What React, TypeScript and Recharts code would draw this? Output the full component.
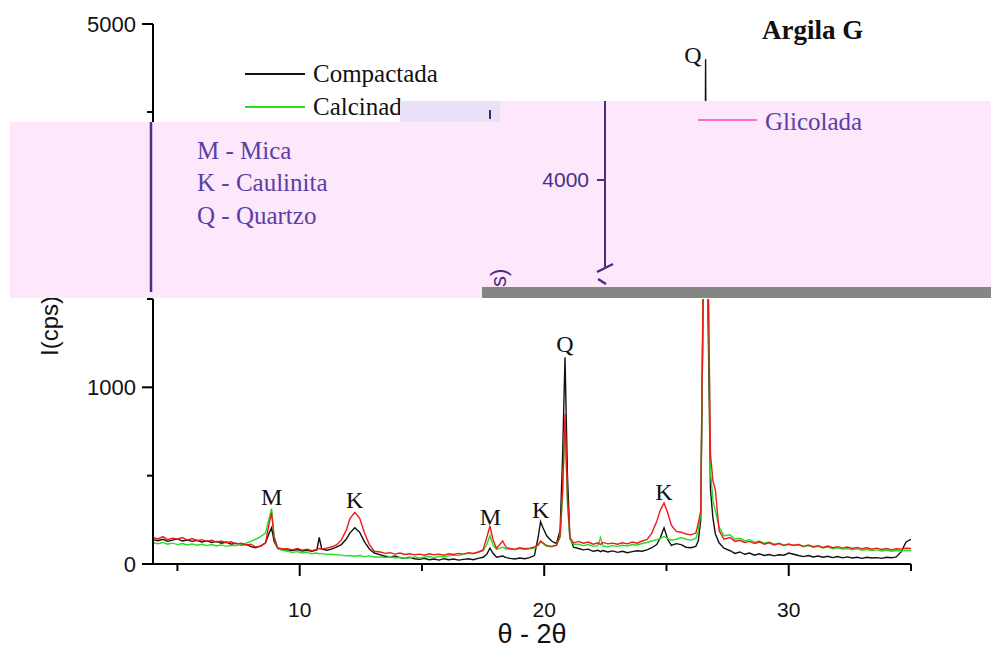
import { LineChart, Line, XAxis, YAxis, Legend, ReferenceDot } from "recharts";

// 2θ positions (degrees)
const twoTheta = [
  4.0, 4.2, 4.4, 4.6, 4.8, 5.0, 5.2, 5.4, 5.6, 5.8, 6.0, 6.2, 6.4, 6.6, 6.8, 7.0, 7.2, 7.4, 7.6, 7.8, 8.0, 8.2, 8.4,
  8.6, 8.75, 8.85, 8.95, 9.1, 9.3,
  9.5, 9.7, 9.9, 10.1, 10.3, 10.5, 10.7, 10.8, 10.9, 11.1, 11.3, 11.5,
  11.7, 11.9, 12.05, 12.25, 12.45, 12.65, 12.85, 13.05,
  13.3, 13.5, 13.7, 13.9, 14.1, 14.3, 14.5, 14.7, 14.9, 15.1, 15.3, 15.5, 15.7, 15.9, 16.1, 16.3, 16.5, 16.7, 16.9, 17.1, 17.3, 17.5,
  17.65, 17.78, 17.9, 18.05, 18.3, 18.45,
  18.6, 18.8, 19.0, 19.2, 19.4, 19.6,
  19.75, 19.85, 19.95, 20.1, 20.3, 20.5, 20.65, 20.75, 20.85, 20.95, 21.05, 21.2,
  21.4, 21.6, 21.8, 22.0, 22.2, 22.3, 22.4, 22.6, 22.8, 23.0, 23.2, 23.4, 23.6, 23.8, 24.0, 24.2,
  24.4, 24.6, 24.75, 24.9, 25.05, 25.2, 25.4, 25.6, 25.8, 26.0, 26.2, 26.3,
  26.4, 26.5, 26.6, 26.7, 26.8, 26.9, 27.0, 27.15, 27.35,
  27.6, 27.8, 28.0, 28.2, 28.4, 28.6, 28.8, 29.0, 29.2, 29.4, 29.6, 29.8, 30.0, 30.2, 30.4, 30.6, 30.8, 31.0, 31.2,
  31.4, 31.6, 31.8, 32.0, 32.2, 32.4, 32.6, 32.8, 33.0, 33.2, 33.4, 33.6, 33.8, 34.0, 34.2, 34.4, 34.6, 34.8, 35.0,
];

const compactada = [
  138, 132, 140, 128, 135, 142, 130, 136, 128, 134, 125, 131, 122, 128, 118, 124, 112, 118, 108, 112, 98, 92, 102,
  120, 175, 205, 130, 88, 82,
  80, 76, 82, 74, 78, 72, 80, 150, 85, 78, 84, 95,
  110, 140, 175, 205, 180, 125, 85, 62,
  52, 44, 40, 46, 36, 32, 38, 30, 26, 32, 24, 28, 22, 30, 24, 28, 22, 26, 30, 24, 32, 38,
  55, 90, 62, 38, 45, 36,
  32, 28, 34, 30, 36, 48,
  150, 240, 205, 160, 130, 115, 190, 600, 1170, 500, 150, 95,
  88, 80, 84, 72, 78, 70, 76, 68, 74, 66, 72, 64, 70, 75, 72, 80,
  92, 110, 150, 205, 140, 105, 115, 110, 95, 92, 100, 130,
  250, 1500, 4800, 1400, 420, 260, 170, 120, 90,
  75, 60, 68, 55, 62, 50, 58, 48, 54, 46, 52, 50, 62, 55, 48, 42, 48, 40, 45,
  38, 44, 36, 42, 35, 40, 34, 38, 32, 38, 34, 36, 32, 38, 35, 40, 70, 125, 140,
];

const calcinada = [
  120, 115, 122, 112, 118, 110, 116, 108, 114, 106, 112, 104, 110, 102, 108, 100, 106, 104, 112, 118, 128, 140, 155,
  175, 260, 315, 160, 85, 78,
  72, 66, 70, 62, 66, 58, 62, 56, 60, 54, 56, 52,
  50, 46, 48, 44, 48, 42, 46, 40,
  40, 36, 42, 34, 38, 32, 36, 40, 34, 38, 42, 36, 44, 40, 46, 50, 48, 56, 60, 58, 66, 74,
  110, 160, 110, 82, 95, 85,
  84, 80, 88, 82, 86, 90,
  105, 125, 115, 100, 98, 108, 150, 380, 800, 340, 140, 112,
  112, 104, 110, 100, 105, 150, 102, 98, 104, 100, 106, 102, 110, 108, 116, 122,
  130, 138, 145, 155, 145, 135, 140, 150, 140, 135, 145, 190,
  280, 1550, 4100, 1650, 520, 360, 300, 210, 160,
  165, 140, 146, 132, 138, 124, 130, 118, 124, 112, 118, 108, 114, 104, 110, 98, 104, 94, 100,
  90, 96, 86, 92, 84, 88, 80, 86, 78, 82, 76, 80, 74, 78, 72, 76, 74, 78, 76,
];

const glicolada = [
  150, 142, 155, 138, 146, 140, 150, 135, 144, 132, 138, 128, 134, 124, 130, 120, 126, 114, 118, 108, 112, 96, 100,
  118, 230, 290, 150, 92, 85,
  86, 80, 88, 78, 84, 76, 82, 88, 84, 90, 96, 108,
  135, 190, 255, 292, 260, 175, 110, 72,
  68, 60, 64, 56, 62, 54, 58, 52, 56, 50, 58, 52, 56, 50, 58, 54, 60, 56, 64, 60, 68, 80,
  150, 215, 140, 88, 130, 92,
  88, 84, 92, 86, 90, 96,
  110, 130, 120, 105, 100, 105, 160, 420, 850, 380, 150, 120,
  128, 118, 124, 112, 120, 110, 122, 114, 118, 112, 120, 114, 124, 118, 130, 138,
  175, 240, 305, 345, 290, 220, 185, 180, 170, 165, 175, 230,
  300, 1600, 4300, 1700, 620, 470, 420, 190, 140,
  150, 128, 134, 122, 128, 116, 124, 112, 120, 108, 116, 104, 112, 106, 110, 100, 108, 98, 104,
  94, 102, 92, 98, 90, 96, 88, 94, 86, 92, 84, 90, 82, 88, 80, 86, 84, 90, 88,
];

const xTicks = [5, 10, 15, 20, 25, 30, 35];
const xLabelled = [10, 20, 30];
const lowerTicks = [0, 500, 1000, 1500];
const lowerLabelled = [0, 1000];
const upperTicks = [4500, 5000];
const upperLabelled = [5000];

const peakNames = ["M", "K", "M", "K", "Q", "K"];
const peakX = [8.85, 12.25, 17.8, 19.85, 20.85, 24.9];
const peakY = [312, 292, 200, 238, 1180, 340];

const minerals = ["M - Mica", "K - Caulinita", "Q - Quartzo"];
const legendOrder = ["Compactada", "Calcinada"];

const data = twoTheta.map((x, i) => ({
  x,
  compactada: compactada[i],
  calcinada: calcinada[i],
  glicolada: glicolada[i],
}));

const SANS = "'Liberation Sans', Arial, sans-serif";
const SERIF = "'Liberation Serif', 'Times New Roman', serif";
const PURPLE = "#5a3ea6";
const INK = "#4b2d86";

function XTick(props: any) {
  const { x, y, payload } = props;
  const major = xLabelled.includes(payload.value);
  return (
    <g>
      <line x1={x} x2={x} y1={y} y2={y + (major ? 12 : 7)} stroke="#000" strokeWidth={2} />
      {major && (
        <text x={x} y={y + 46} dy="0.35em" textAnchor="middle" fontSize={21} fontFamily={SANS} fill="#111">
          {payload.value}
        </text>
      )}
    </g>
  );
}

function makeYTick(labelled: number[]) {
  return (props: any) => {
    const { x, y, payload } = props;
    const major = labelled.includes(payload.value);
    return (
      <g>
        <line x1={x - (major ? 11 : 6)} x2={x} y1={y} y2={y} stroke="#000" strokeWidth={2} />
        {major && (
          <text x={x - 17} y={y} dy="0.35em" textAnchor="end" fontSize={22} fontFamily={SANS} fill="#111">
            {payload.value}
          </text>
        )}
      </g>
    );
  };
}

function TopLegend(props: any) {
  const items = legendOrder
    .map((name) => (props.payload || []).find((p: any) => p.value === name))
    .filter(Boolean);
  return (
    <div>
      {items.map((p: any) => (
        <div key={p.value} style={{ display: "flex", alignItems: "center", height: 33 }}>
          <span style={{ width: 60, borderTop: `2px solid ${p.color}`, marginRight: 8 }} />
          <span style={{ fontFamily: SERIF, fontSize: 25, color: "#111", lineHeight: "33px" }}>{p.value}</span>
        </div>
      ))}
    </div>
  );
}

function Series() {
  return [
    <Line key="c" dataKey="compactada" name="Compactada" stroke="#111111" strokeWidth={1.4} dot={false} isAnimationActive={false} />,
    <Line key="k" dataKey="calcinada" name="Calcinada" stroke="#22e022" strokeWidth={1.4} dot={false} isAnimationActive={false} />,
    <Line key="g" dataKey="glicolada" name="Glicolada" stroke="#ee1a1a" strokeWidth={1.4} dot={false} isAnimationActive={false} />,
  ];
}

export default function App() {
  return (
    <div style={{ position: "absolute", left: 0, top: 0, width: 991, height: 650, background: "#fff", overflow: "hidden" }}>
      {/* lower part of the broken axis: 0 - 1500 */}
      <div style={{ position: "absolute", left: 0, top: 0 }}>
        <LineChart width={991} height={650} data={data} margin={{ top: 299, right: 80, left: 0, bottom: 46 }}>
          <XAxis
            dataKey="x"
            type="number"
            domain={[4, 35]}
            ticks={xTicks}
            allowDataOverflow
            height={40}
            tickSize={0}
            tickMargin={0}
            tick={<XTick />}
            axisLine={{ stroke: "#000", strokeWidth: 2 }}
            label={{ value: "θ - 2θ", position: "bottom", offset: 20, fontSize: 27, fontFamily: SANS, fill: "#111" }}
          />
          <YAxis
            type="number"
            domain={[0, 1500]}
            ticks={lowerTicks}
            allowDataOverflow
            width={153}
            tickSize={0}
            tickMargin={0}
            tick={makeYTick(lowerLabelled)}
            axisLine={{ stroke: "#000", strokeWidth: 2 }}
            label={{
              content: () => (
                <text x={50} y={326} transform="rotate(-90 50 326)" textAnchor="middle" dy="0.35em" fontSize={24} fontFamily={SANS} fill="#111">
                  I(cps)
                </text>
              ),
            }}
          />
          {Series()}
          {peakNames.map((n, i) => (
            <ReferenceDot
              key={i}
              x={peakX[i]}
              y={peakY[i]}
              r={0}
              stroke="none"
              fill="none"
              label={{ value: n, position: "top", offset: 4, fontSize: 24, fontFamily: SERIF, fill: "#111" }}
            />
          ))}
        </LineChart>
      </div>

      {/* upper part of the broken axis: 3500 - 5000 */}
      <div style={{ position: "absolute", left: 0, top: 0 }}>
        <LineChart width={991} height={300} data={data} margin={{ top: 24, right: 80, left: 0, bottom: 12 }}>
          <XAxis dataKey="x" type="number" domain={[4, 35]} allowDataOverflow hide />
          <YAxis
            type="number"
            domain={[3500, 5000]}
            ticks={upperTicks}
            allowDataOverflow
            width={153}
            tickSize={0}
            tickMargin={0}
            tick={makeYTick(upperLabelled)}
            axisLine={{ stroke: "#000", strokeWidth: 2 }}
          />
          {Series()}
          <ReferenceDot
            x={26.6}
            y={4825}
            r={0}
            stroke="none"
            fill="none"
            label={{ value: "Q", position: "left", offset: 4, fontSize: 24, fontFamily: SERIF, fill: "#111" }}
          />
          <Legend
            layout="vertical"
            align="center"
            verticalAlign="middle"
            content={<TopLegend />}
            wrapperStyle={{ position: "absolute", left: 245, top: 57, width: "auto" }}
          />
        </LineChart>
      </div>

      {/* title and the pasted-over band */}
      <svg width={991} height={650} style={{ position: "absolute", left: 0, top: 0, pointerEvents: "none" }}>
        <text x={762} y={39} fontSize={27} fontWeight="bold" fontFamily={SERIF} fill="#111">
          Argila G
        </text>
        <rect x={10} y={122} width={981} height={176} fill="#fce7fb" />
        <rect x={400} y={101} width={591} height={21} fill="#fce7fb" />
        <rect x={400} y={101} width={100} height={21} fill="#e9e2f7" />
        <line x1={490} x2={490} y1={110} y2={119} stroke="#3a2a7a" strokeWidth={2} />
        <rect x={482} y={287} width={509} height={11} fill="#858585" />
        <line x1={151} x2={151} y1={122} y2={292} stroke={INK} strokeWidth={2.5} />
        <line x1={605} x2={605} y1={101} y2={268} stroke={INK} strokeWidth={2} />
        <line x1={597} x2={605} y1={180} y2={180} stroke={INK} strokeWidth={2} />
        <text x={589} y={180} dy="0.35em" textAnchor="end" fontSize={21} fontFamily={SANS} fill={INK}>
          4000
        </text>
        <path d="M597,272 L613,264 M598,279 L606,284" stroke={INK} strokeWidth={2.5} fill="none" />
        <text x={506} y={287} transform="rotate(-90 506 287)" fontSize={22} fontFamily={SANS} fill={INK}>
          s)
        </text>
        {minerals.map((m, i) => (
          <text key={m} x={197} y={150 + i * 32.5} dy="0.35em" fontSize={25} fontFamily={SERIF} fill={PURPLE}>
            {m}
          </text>
        ))}
        <line x1={698} x2={757} y1={120} y2={120} stroke="#ff6ad5" strokeWidth={2} />
        <text x={765} y={121} dy="0.35em" fontSize={25} fontFamily={SERIF} fill={PURPLE}>
          Glicolada
        </text>
      </svg>
    </div>
  );
}
